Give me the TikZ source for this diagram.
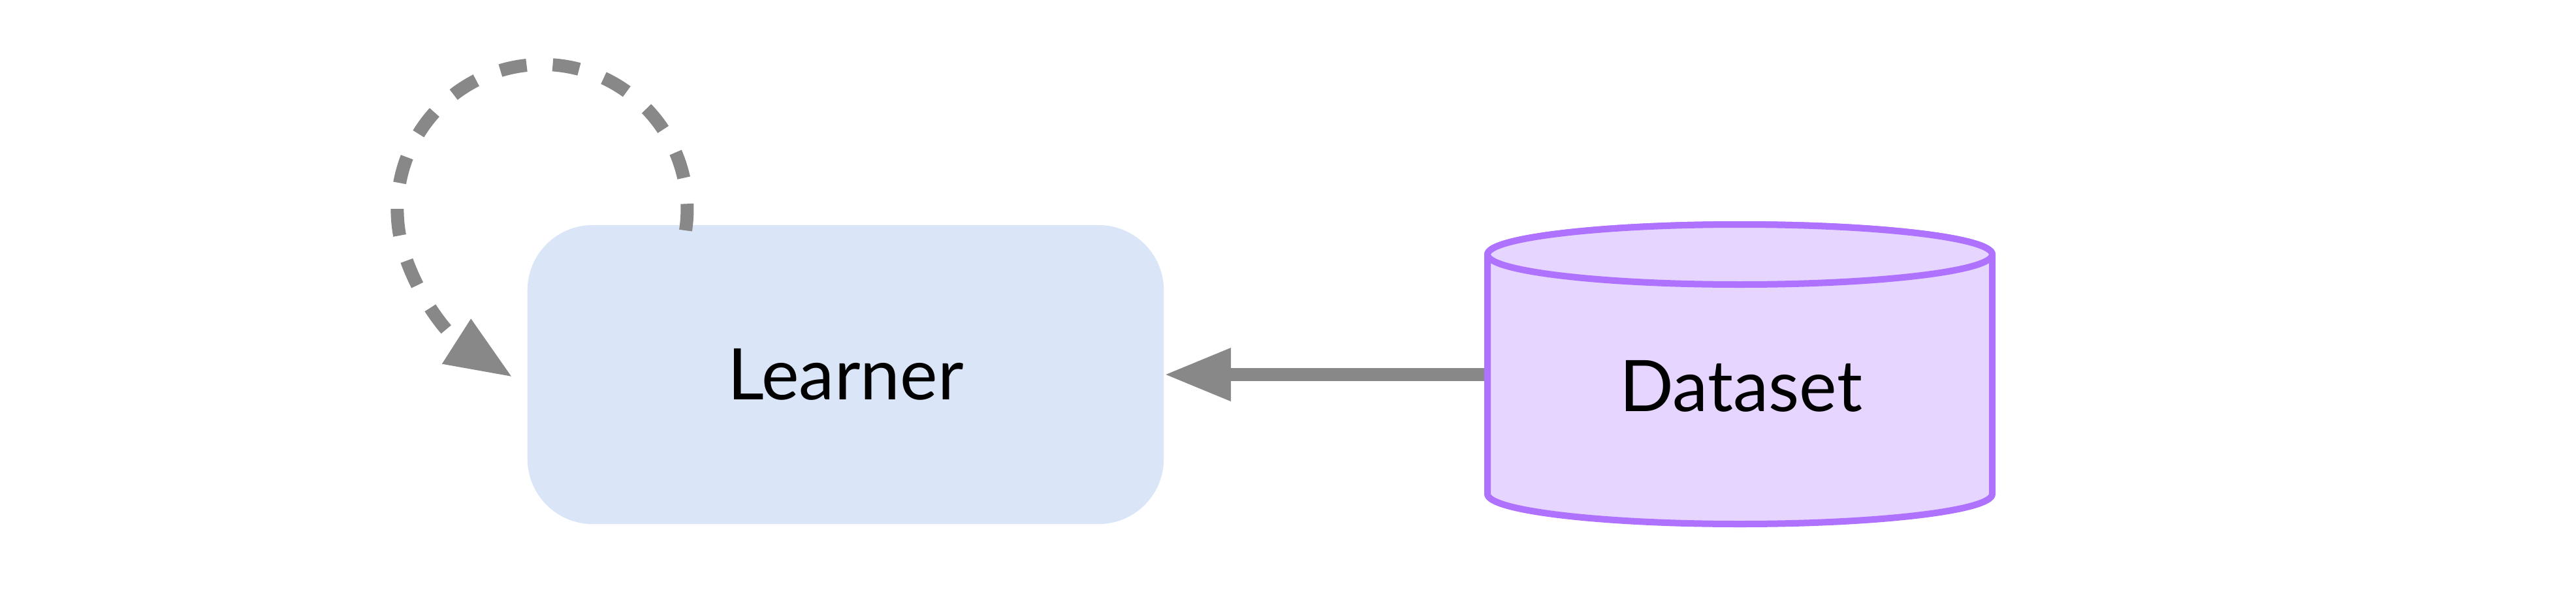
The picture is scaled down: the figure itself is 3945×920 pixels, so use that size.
\documentclass[tikz,border=0pt]{standalone}
\usepackage{fontspec}
\setmainfont{Lato}
\usetikzlibrary{arrows.meta,calc}
\definecolor{lrnfill}{HTML}{DAE6F8}
\definecolor{dsfill}{HTML}{E5D5FF}
\definecolor{dsline}{HTML}{AF72FF}
\definecolor{arrgray}{HTML}{888888}
\begin{document}
\begin{tikzpicture}[x=0.01cm,y=0.01cm,
  learnerbox/.style={rectangle, rounded corners=1cm, fill=lrnfill, minimum width=9.74cm, minimum height=4.58cm, inner sep=0pt, font=\fontsize{31}{37}\selectfont},
  dsbody/.style={draw=dsline, fill=dsfill, line width=0.1cm},
  txtlabel/.style={font=\fontsize{31}{37}\selectfont, inner sep=0pt},
  flow/.style={draw=arrgray, line width=0.2cm, -{Triangle[length=1.02cm,width=0.76cm]}},
  loopflow/.style={flow, line width=0.2cm, dash pattern=on 0.41cm off 0.40cm}
]
\useasboundingbox (0,0) rectangle (3945,920);
\node[learnerbox] (learner) at (1295,346) {Learner};
\node[minimum width=7.73cm, minimum height=3.67cm, inner sep=0pt] (dataset) at (2664.5,346) {};
\draw[flow] (dataset.west) -- (learner.east);
\path[dsbody] (2278,530) -- (2278,163) arc[start angle=180,end angle=360,x radius=386.5,y radius=46] -- (3051,530) arc[start angle=0,end angle=180,x radius=386.5,y radius=46] -- cycle;
\draw[dsbody] (2664.5,530) ellipse [x radius=386.5, y radius=46];
\node[txtlabel] (dslabel) at (2666,328) {Dataset};
\draw[loopflow] ($(learner.north west)+(243,-9)$) arc[start angle=-8.4, end angle=200, radius=222] to[out=290,in=147.4] ($(learner.west)+(-22,-4)$);
\end{tikzpicture}
\end{document}
